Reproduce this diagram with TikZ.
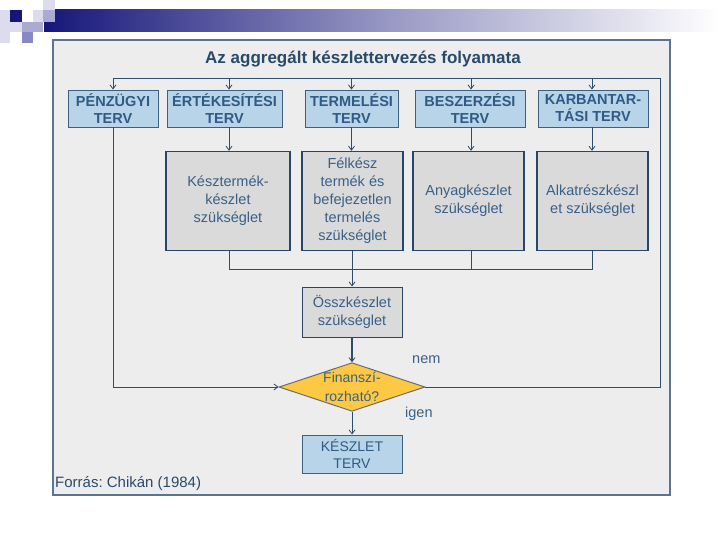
\documentclass[tikz,border=0pt]{standalone}
\usepackage{fontspec}
\setmainfont{Liberation Sans}
\usetikzlibrary{arrows.meta,shapes.geometric,calc}
\frenchspacing
\definecolor{panelfill}{HTML}{EDEDED}
\definecolor{panelborder}{HTML}{5B7590}
\definecolor{topfill}{HTML}{B7D4E9}
\definecolor{topborder}{HTML}{3D5F80}
\definecolor{toptext}{HTML}{2F5B84}
\definecolor{midfill}{HTML}{DADADA}
\definecolor{midborder}{HTML}{27476A}
\definecolor{midtext}{HTML}{3A6088}
\definecolor{linecol}{HTML}{2D4D6D}
\definecolor{diafill}{HTML}{FDC843}
\definecolor{diaborder}{HTML}{6B6B6B}
\definecolor{titlecol}{HTML}{2A4A6A}
\definecolor{navy}{HTML}{16167A}
\definecolor{lav1}{HTML}{DCDCEE}
\definecolor{lav2}{HTML}{AAAAD2}
\definecolor{lav3}{HTML}{8888C2}
\tikzset{
  topbox/.style={draw=topborder, fill=topfill, line width=0.9pt, text=toptext,
    font=\fontsize{14.5}{17}\selectfont\bfseries, align=center, inner sep=0pt,
    minimum height=37pt},
  midbox/.style={draw=midborder, fill=midfill, line width=1.4pt, text=midtext,
    font=\fontsize{14.5}{18}\selectfont, align=center, inner sep=0pt,
    minimum height=99pt},
  conn/.style={draw=linecol, line width=0.9pt},
  arr/.style={conn, -{Straight Barb[length=4pt,width=6pt,line width=0.8pt]}},
  lbl/.style={text=midtext, font=\fontsize{14.5}{16}\selectfont, inner sep=0pt},
}
\begin{document}
\begin{tikzpicture}[x=1pt,y=-1pt]
\useasboundingbox (0,0) rectangle (720,540);
\fill[white] (0,0) rectangle (720,540);
% header decoration
\shade[left color=navy, right color=white, middle color=navy!45!white] (44,10) rectangle (720,32);
\fill[lav1] (0,10) rectangle (10,43);
\fill[navy] (10,10) rectangle (22,22);
\fill[lav1] (10,22) rectangle (22,32);
\fill[lav2] (22,22) rectangle (43,32);
\fill[lav3] (22,32) rectangle (33,43);
\fill[lav1] (33,10) rectangle (43,22);
\fill[lav2] (43,10) rectangle (55,22);
\fill[lav1] (43,0) rectangle (55,10);
% panel
\draw[draw=panelborder, fill=panelfill, line width=2.2pt] (53,40) rectangle (670,495);
\node[text=titlecol, font=\fontsize{17}{19}\selectfont\bfseries] (title) at (363,59) {Az aggregált készlettervezés folyamata};
% top boxes
\node[topbox, minimum width=90pt] (p) at (113,108.5) {PÉNZÜGYI\\TERV};
\node[topbox, minimum width=115pt] (e) at (224.5,108.5) {ÉRTÉKESÍTÉSI\\TERV};
\node[topbox, minimum width=93pt] (t) at (351.5,108.5) {TERMELÉSI\\TERV};
\node[topbox, minimum width=110pt] (b) at (470,108.5) {BESZERZÉSI\\TERV};
\node[topbox, minimum width=110pt] (k) at (593,108.5) {KARBANTAR-\\TÁSI TERV};
% middle boxes
\node[midbox, minimum width=124pt] (m1) at (228,201) {Késztermék-\\készlet\\szükséglet};
\node[midbox, minimum width=101pt] (m2) at (352.5,201) {Félkész\\termék és\\befejezetlen\\termelés\\szükséglet};
\node[midbox, minimum width=111pt] (m3) at (468.5,201) {Anyagkészlet\\szükséglet};
\node[midbox, minimum width=111pt] (m4) at (592.5,201) {Alkatrészkészl\\et szükséglet};
% aggregate
\node[draw=midborder, fill=midfill, line width=1pt, text=midtext,
  font=\fontsize{14.5}{18}\selectfont, align=center, inner sep=0pt,
  minimum width=100pt, minimum height=50pt] (o) at (352,312) {Összkészlet\\szükséglet};
\node[diamond, draw=diaborder, fill=diafill, line width=1pt, text=midtext,
  font=\fontsize{14}{19}\selectfont, align=center, inner sep=0pt,
  shape aspect=3, minimum width=143pt, minimum height=48pt] (d) at (352,387) {Finanszí-\\rozható?};
\node[draw=topborder, fill=topfill, line width=1pt, text=toptext,
  font=\fontsize{14}{17}\selectfont, align=center, inner sep=0pt,
  minimum width=100pt, minimum height=38pt] (kt) at (352,454) {KÉSZLET\\TERV};
\node[lbl, anchor=west] (nem) at (412,360) {nem};
\node[lbl, anchor=west] (igen) at (405,414) {igen};
\node[text=titlecol, font=\fontsize{15}{17}\selectfont, inner sep=0pt, anchor=west] (src) at (55,484) {Forrás: Chikán (1984)};
% coordinates
\coordinate (topL) at (113,78);
\coordinate (topR) at (660,78);
\coordinate (ce) at (229,0);
\coordinate (cb) at (471,0);
\coordinate (ck) at (592,0);
\coordinate (botL) at (229,269);
\coordinate (botR) at (592,269);
% feedback loop
\draw[conn] (d.east) -| (topR) -- (topL);
\draw[arr] (topL) -- (p.north);
\draw[arr] (ce |- topL) -- (e.north -| ce);
\draw[arr] (t.north |- topL) -- (t.north);
\draw[arr] (cb |- topL) -- (b.north -| cb);
\draw[arr] (ck |- topL) -- (k.north -| ck);
% top to middle
\draw[arr] (e.south -| ce) -- (m1.north -| ce);
\draw[arr] (t.south) -- (m2.north -| t.south);
\draw[arr] (b.south -| cb) -- (m3.north -| cb);
\draw[arr] (k.south -| ck) -- (m4.north -| ck);
% middle to aggregate
\draw[conn] (m1.south -| ce) -- (botL) -- (botR) -- (m4.south -| ck);
\draw[conn] (m2.south) -- (m2.south |- botL);
\draw[conn] (m3.south -| cb) -- (cb |- botL);
\draw[arr] (o.north |- botL) -- (o.north);
\draw[arr, line width=1.6pt] (o.south) -- (d.north);
\draw[arr] (d.south) -- (kt.north);
% left line
\draw[arr] (p.south) |- (d.west);
\end{tikzpicture}
\end{document}
